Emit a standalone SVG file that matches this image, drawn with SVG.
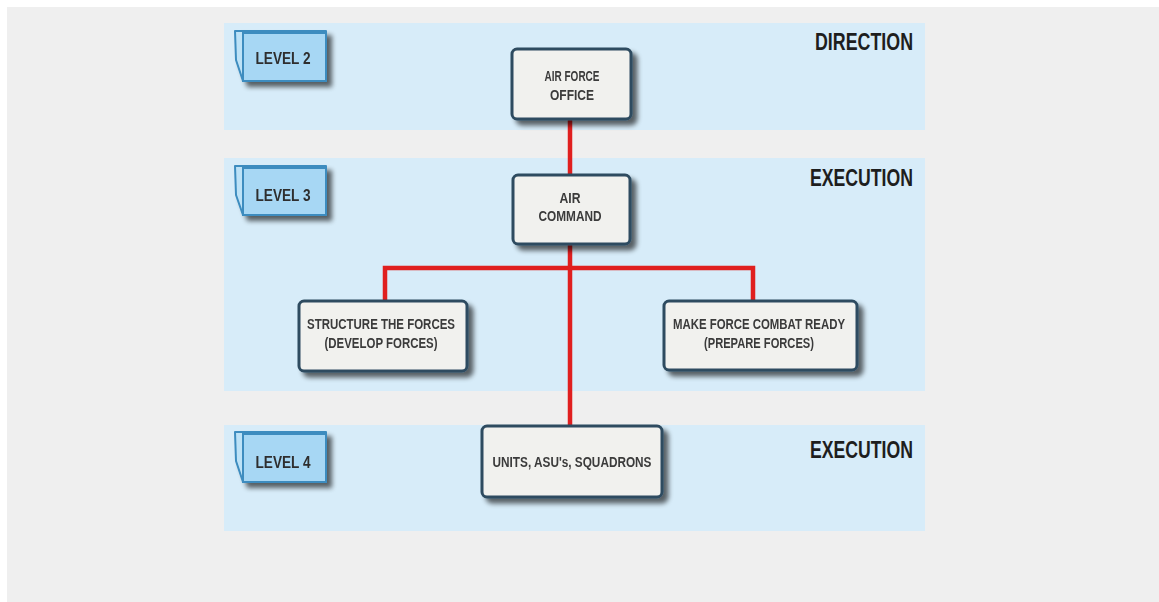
<svg xmlns="http://www.w3.org/2000/svg" width="1159" height="602" viewBox="0 0 1159 602">
  <defs>
    <filter id="shadow" x="-20%" y="-20%" width="150%" height="160%">
      <feGaussianBlur in="SourceAlpha" stdDeviation="2.5"/>
      <feOffset dx="5" dy="5" result="blur"/>
      <feComponentTransfer><feFuncA type="linear" slope="0.6"/></feComponentTransfer>
      <feMerge><feMergeNode/><feMergeNode in="SourceGraphic"/></feMerge>
    </filter>
    <style>
      .band { fill: #d7ecf9; }
      .tag-face { fill: #a7d7f4; stroke: #3c8cbf; stroke-width: 2; }
      .tag-side { fill: #bde2f7; stroke: #3c8cbf; stroke-width: 2; stroke-linejoin: round; }
      .tag-text { font-family: "Liberation Sans", Arial, sans-serif; font-size: 17px; font-weight: bold; fill: #2e2e2e; text-anchor: middle; }
      .box { fill: #f1f1ee; stroke: #2e4b60; stroke-width: 3; }
      .box-text { font-family: "Liberation Sans", Arial, sans-serif; font-size: 14px; font-weight: bold; fill: #3a3a3a; text-anchor: middle; }
      .phase { font-family: "Liberation Sans", Arial, sans-serif; font-size: 23px; font-weight: bold; fill: #1e1e1e; text-anchor: end; }
      .link { fill: none; stroke: #e01f1f; stroke-width: 4.5; stroke-linecap: butt; stroke-linejoin: miter; }
    </style>
  </defs>

  <!-- page -->
  <rect x="0" y="0" width="1159" height="602" fill="#ffffff"/>
  <rect x="7" y="7" width="1152" height="595" fill="#efefef"/>

  <!-- level bands -->
  <g id="bands">
    <rect class="band" x="224" y="23" width="701" height="107"/>
    <rect class="band" x="224" y="158" width="701" height="233"/>
    <rect class="band" x="224" y="425" width="701" height="106"/>
  </g>

  <!-- band headings -->
  <g id="headings">
    <text class="phase" x="913" y="50" textLength="98" lengthAdjust="spacingAndGlyphs">DIRECTION</text>
    <text class="phase" x="913" y="186" textLength="103" lengthAdjust="spacingAndGlyphs">EXECUTION</text>
    <text class="phase" x="913" y="458" textLength="103" lengthAdjust="spacingAndGlyphs">EXECUTION</text>
  </g>

  <!-- level tags -->
  <g id="level2" filter="url(#shadow)">
    <polygon class="tag-side" points="235,31 326,31 326,33 243,33 243,81 236,60"/>
    <rect class="tag-face" x="243" y="33" width="83" height="48"/>
    <text class="tag-text" x="283" y="64" textLength="55" lengthAdjust="spacingAndGlyphs">LEVEL 2</text>
  </g>
  <g id="level3" filter="url(#shadow)">
    <polygon class="tag-side" points="235,166 326,166 326,168 243,168 243,215 236,195"/>
    <rect class="tag-face" x="243" y="168" width="83" height="47"/>
    <text class="tag-text" x="283" y="201" textLength="55" lengthAdjust="spacingAndGlyphs">LEVEL 3</text>
  </g>
  <g id="level4" filter="url(#shadow)">
    <polygon class="tag-side" points="235,432 326,432 326,434 243,434 243,482 236,461"/>
    <rect class="tag-face" x="243" y="434" width="83" height="48"/>
    <text class="tag-text" x="283" y="468" textLength="55" lengthAdjust="spacingAndGlyphs">LEVEL 4</text>
  </g>

  <!-- connectors -->
  <g id="connectors">
    <path class="link" d="M570,119 V175"/>
    <path class="link" d="M570,244 V426"/>
    <path class="link" d="M385,301 V268 H753 V301"/>
  </g>

  <!-- nodes -->
  <g id="air-force-office" filter="url(#shadow)">
    <rect class="box" x="512" y="49" width="119" height="70" rx="5"/>
    <text class="box-text" x="572" y="81" textLength="55" lengthAdjust="spacingAndGlyphs">AIR FORCE</text>
    <text class="box-text" x="572" y="100" textLength="44" lengthAdjust="spacingAndGlyphs">OFFICE</text>
  </g>
  <g id="air-command" filter="url(#shadow)">
    <rect class="box" x="513" y="175" width="117" height="69" rx="5"/>
    <text class="box-text" x="570" y="203" textLength="21" lengthAdjust="spacingAndGlyphs">AIR</text>
    <text class="box-text" x="570" y="221" textLength="63" lengthAdjust="spacingAndGlyphs">COMMAND</text>
  </g>
  <g id="structure-forces" filter="url(#shadow)">
    <rect class="box" x="299" y="301" width="168" height="70" rx="5"/>
    <text class="box-text" x="381" y="329" textLength="148" lengthAdjust="spacingAndGlyphs">STRUCTURE THE FORCES</text>
    <text class="box-text" x="381" y="348" textLength="113" lengthAdjust="spacingAndGlyphs">(DEVELOP FORCES)</text>
  </g>
  <g id="combat-ready" filter="url(#shadow)">
    <rect class="box" x="664" y="301" width="193" height="69" rx="5"/>
    <text class="box-text" x="759" y="329" textLength="172" lengthAdjust="spacingAndGlyphs">MAKE FORCE COMBAT READY</text>
    <text class="box-text" x="759" y="348" textLength="110" lengthAdjust="spacingAndGlyphs">(PREPARE FORCES)</text>
  </g>
  <g id="units" filter="url(#shadow)">
    <rect class="box" x="482" y="426" width="180" height="71" rx="5"/>
    <text class="box-text" x="572" y="467" textLength="159" lengthAdjust="spacingAndGlyphs">UNITS, ASU's, SQUADRONS</text>
  </g>
</svg>
